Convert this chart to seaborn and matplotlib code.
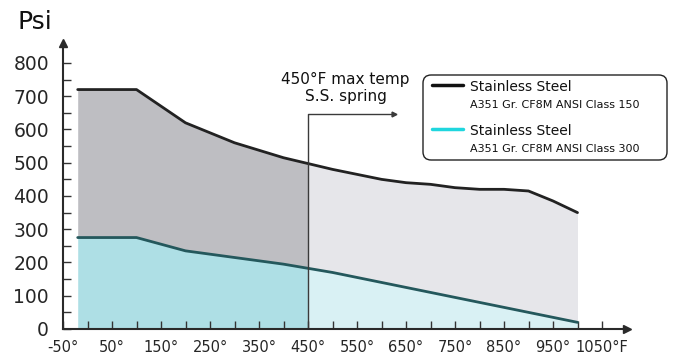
import matplotlib.pyplot as plt
import numpy as np
import pandas as pd
import seaborn as sns
from matplotlib.patches import FancyBboxPatch, Rectangle
from matplotlib.ticker import FixedLocator

sns.set_style('white')
plt.rcParams['font.family'] = ['DejaVu Sans']

# pressure / temperature rating, stainless steel CF8M
temps = [-20, 100, 200, 300, 400, 500, 600, 650, 700, 750, 800, 850, 900, 950, 1000]
class_300 = [720, 720, 620, 560, 515, 480, 450, 440, 435, 425, 420, 420, 415, 385, 350]
class_150 = [275, 275, 235, 215, 195, 170, 140, 125, 110, 95, 80, 65, 50, 35, 20]

x_ticks = list(range(-50, 1051, 100))
x_labels = [f'{t}°' for t in x_ticks[:-1]] + ['1050°F']
x_minor = list(range(0, 1001, 100))
y_ticks = list(range(0, 801, 100))
y_minor = list(range(50, 751, 100))
spring_limit = 450

df = pd.DataFrame({
    'temp': temps * 2,
    'psi': class_300 + class_150,
    'cls': ['Class 300'] * len(temps) + ['Class 150'] * len(temps),
})

W, H = 680, 360


def px(x, y):
    return x / W, 1 - y / H


fig = plt.figure(figsize=(W / 100, H / 100), dpi=100)
ax = fig.add_axes([63 / W, 31 / H, (626.5 - 63) / W, (329 - 43) / H])
ax.set_axisbelow(False)
ax.set_xlim(-50, 1100)
ax.set_ylim(0, 860)

# filled areas, darker left of the spring limit
zeros = [0] * len(temps)
fills = [
    (zeros, class_150, '#aedfe5', '#d9f1f4'),
    (class_150, class_300, '#bebec2', '#e6e6ea'),
]
for lo, hi, c_left, c_right in fills:
    for (x0, x1), col in [((-50, spring_limit), c_left), ((spring_limit, 1100), c_right)]:
        poly = ax.fill_between(temps, lo, hi, color=col, lw=0, zorder=1)
        clip = Rectangle((x0, 0), x1 - x0, 900, transform=ax.transData)
        poly.set_clip_path(clip)

sns.lineplot(data=df, x='temp', y='psi', hue='cls',
             palette={'Class 300': '#222222', 'Class 150': '#24585c'},
             lw=2, legend=False, ax=ax, zorder=3)

# spring limit marker
ax.plot([spring_limit, spring_limit, 625], [0, 648, 648], color='#3a3a3a', lw=1, zorder=4)
ax.plot([625], [648], marker='>', ms=3.5, color='#3a3a3a', zorder=4)
ax.text(527, 724, '450°F max temp\nS.S. spring', ha='center', va='center',
        fontsize=11, linespacing=1.15, color='#111')

# axes
for side in ['top', 'right']:
    ax.spines[side].set_visible(False)
for side in ['left', 'bottom']:
    ax.spines[side].set_color('#2a2a2a')
    ax.spines[side].set_linewidth(1.5)
    ax.spines[side].set_zorder(5)
ax.plot(1, 0, '>', color='#2a2a2a', ms=6, transform=ax.transAxes, clip_on=False)
ax.plot(0, 1, '^', color='#2a2a2a', ms=6, transform=ax.transAxes, clip_on=False)

ax.set_xticks(x_ticks)
ax.set_xticklabels(x_labels)
ax.xaxis.set_minor_locator(FixedLocator(x_minor))
ax.set_yticks(y_ticks)
ax.yaxis.set_minor_locator(FixedLocator(y_minor))
ax.tick_params(axis='x', which='both', direction='in', length=6, width=1,
               color='#333', labelsize=10.5, pad=8)
ax.tick_params(axis='y', which='both', direction='in', length=6, width=1,
               color='#333', labelsize=13.5, pad=10)
ax.tick_params(left=True, bottom=True, which='both')
ax.set_xlabel('')
ax.set_ylabel('')

fig.text(*px(17, 22), 'Psi', fontsize=18, va='center', ha='left', color='#111')

# legend box
bx0, by0 = px(423, 160)
bx1, by1 = px(667, 75)
box = FancyBboxPatch((bx0, by0), bx1 - bx0, by1 - by0, transform=fig.transFigure,
                     boxstyle='round,pad=0,rounding_size=0.012',
                     mutation_aspect=W / H, fc='white', ec='#222', lw=1)
fig.patches.append(box)
for (ly, col, sub) in [(85, '#111111', 'A351 Gr. CF8M ANSI Class 150'),
                       (129, '#1fd6de', 'A351 Gr. CF8M ANSI Class 300')]:
    x0, y0 = px(432, ly)
    x1, _ = px(463, ly)
    fig.add_artist(plt.Line2D([x0, x1], [y0, y0], color=col, lw=2.5,
                              transform=fig.transFigure))
    fig.text(*px(470, ly + 2), 'Stainless Steel', fontsize=10, va='center', color='#111')
    fig.text(*px(470, ly + 20), sub, fontsize=8, va='center', color='#111')

fig.savefig('out.png', dpi=100)
